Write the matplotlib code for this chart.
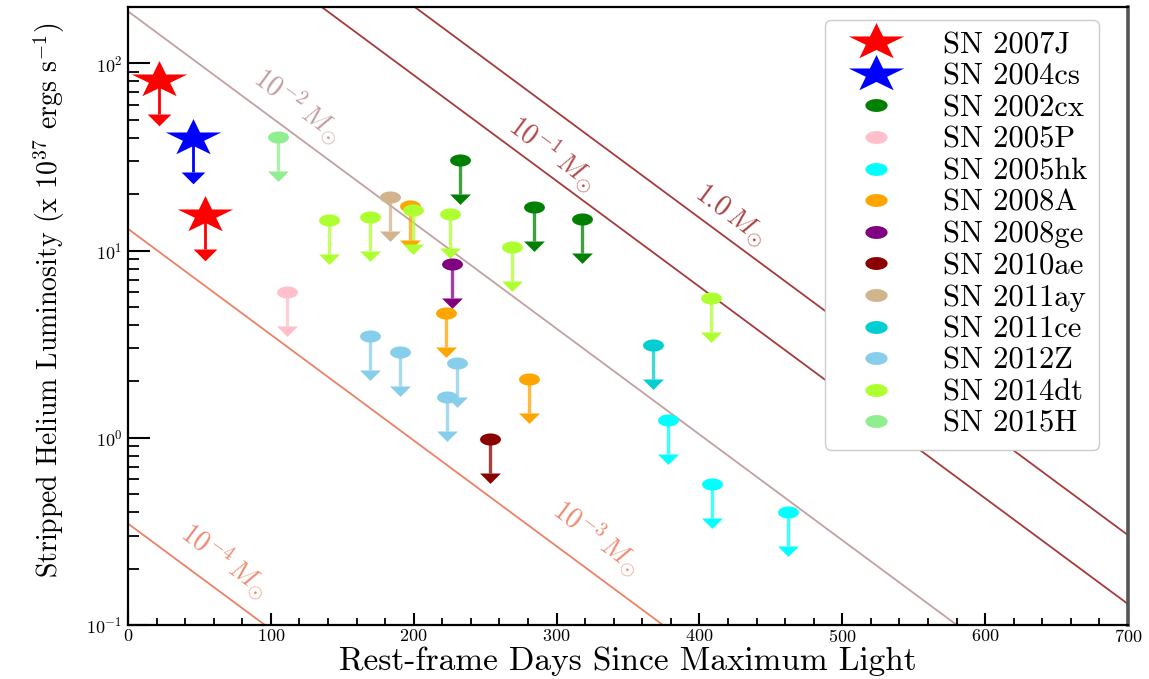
import numpy as np
import matplotlib
matplotlib.use("Agg")
import matplotlib.pyplot as plt
from matplotlib.path import Path
from matplotlib.lines import Line2D

plt.rcParams["font.family"] = "serif"
plt.rcParams["font.serif"] = ["cmr10", "DejaVu Serif"]
plt.rcParams["mathtext.fontset"] = "cm"
plt.rcParams["axes.formatter.use_mathtext"] = True
plt.rcParams["axes.unicode_minus"] = False

# ---- upper limits on stripped helium luminosity (1e37 erg/s) ----
sn_names = ["SN 2007J", "SN 2004cs", "SN 2002cx", "SN 2005P", "SN 2005hk",
            "SN 2008A", "SN 2008ge", "SN 2010ae", "SN 2011ay", "SN 2011ce",
            "SN 2012Z", "SN 2014dt", "SN 2015H"]
sn_colors = ["red", "blue", "green", "pink", "cyan", "orange", "purple",
             "darkred", "tan", "darkturquoise", "skyblue", "greenyellow",
             "lightgreen"]

days_2007J = [21.7, 54.0]
lum_2007J = [81.0, 15.5]
days_2004cs = [45.5]
lum_2004cs = [39.8]
days_2002cx = [232.4, 284.2, 317.8]
lum_2002cx = [30.4, 17.0, 14.7]
days_2005P = [111.3]
lum_2005P = [6.0]
days_2005hk = [378.0, 408.8, 462.0]
lum_2005hk = [1.24, 0.566, 0.40]
days_2008A = [197.4, 222.6, 280.7]
lum_2008A = [17.3, 4.63, 2.06]
days_2008ge = [226.8]
lum_2008ge = [8.45]
days_2010ae = [253.4]
lum_2010ae = [0.98]
days_2011ay = [183.4]
lum_2011ay = [19.3]
days_2011ce = [367.5]
lum_2011ce = [3.13]
days_2012Z = [169.4, 190.4, 230.3, 223.3]
lum_2012Z = [3.49, 2.87, 2.51, 1.65]
days_2014dt = [140.7, 169.4, 199.5, 225.4, 268.8, 408.1]
lum_2014dt = [14.5, 15.1, 16.4, 15.6, 10.4, 5.57]
days_2015H = [105.0]
lum_2015H = [40.3]

sn_days = [days_2007J, days_2004cs, days_2002cx, days_2005P, days_2005hk,
           days_2008A, days_2008ge, days_2010ae, days_2011ay, days_2011ce,
           days_2012Z, days_2014dt, days_2015H]
sn_lums = [lum_2007J, lum_2004cs, lum_2002cx, lum_2005P, lum_2005hk,
           lum_2008A, lum_2008ge, lum_2010ae, lum_2011ay, lum_2011ce,
           lum_2012Z, lum_2014dt, lum_2015H]
sn_is_star = [True, True] + [False] * 11

# ---- model tracks for a given stripped helium mass ----
track_labels = [r"$10^{-4}\,M_{\odot}$", r"$10^{-3}\,M_{\odot}$",
                r"$10^{-2}\,M_{\odot}$", r"$10^{-1}\,M_{\odot}$",
                r"$1.0\,M_{\odot}$"]
track_l0 = [0.348, 13.06, 189.7, 1167.0, 2723.0]
track_decay = 0.00565  # dex per day
track_colors = ["#EE8066", "#EE8066", "#C4A0A0", "#A63A3A", "#A63A3A"]
track_text_colors = ["#EE8A70", "#EE8A70", "#C29C9C", "#B04848", "#A84040"]
track_label_day = [67.9, 328.3, 119.0, 297.5, 421.4]
track_label_lum = [0.222, 0.295, 59.7, 33.1, 15.5]

# ---- marker shapes (wide, as drawn) ----
th = np.linspace(0, 2 * np.pi, 60)
ellipse_marker = Path(np.column_stack([np.cos(th), 0.58 * np.sin(th)]), closed=True)
star_base = Path.unit_regular_star(5, 0.381966)
star_marker = Path(star_base.vertices * np.array([1.5, 1.0]), star_base.codes)
arrow_head = Path([(-1.0, 0.0), (1.0, 0.0), (0.0, -1.0), (-1.0, 0.0)],
                  [Path.MOVETO, Path.LINETO, Path.LINETO, Path.CLOSEPOLY])

fig = plt.figure(figsize=(11.49, 6.79), dpi=100)
ax = fig.add_axes([0.1114, 0.0795, 0.8703, 0.9102])
ax.set_yscale("log")
ax.set_xlim(0, 700)
ax.set_ylim(0.1, 200)

t = np.linspace(0, 700, 400)
for l0, c in zip(track_l0, track_colors):
    ax.plot(t, l0 * 10 ** (-track_decay * t), color=c, lw=1.3, zorder=1)

# rotation of the tracks in screen space
fig.canvas.draw()
p0 = ax.transData.transform((0, track_l0[2]))
p1 = ax.transData.transform((100, track_l0[2] * 10 ** (-track_decay * 100)))
ang = np.degrees(np.arctan2(p1[1] - p0[1], p1[0] - p0[0]))
for lab, x, y, c in zip(track_labels, track_label_day, track_label_lum,
                        track_text_colors):
    ax.text(x, y, lab, rotation=ang, color=c, fontsize=20,
            ha="center", va="center", rotation_mode="anchor", zorder=2)

base_frac = 10 ** -0.18
for d, l, c, st in zip(sn_days, sn_lums, sn_colors, sn_is_star):
    d = np.asarray(d)
    l = np.asarray(l)
    ax.vlines(d, l * base_frac, l, color=c, lw=2.4 if not st else 2.0,
              alpha=0.75 if not st else 1.0, zorder=3)
    ax.plot(d, l * base_frac, ls="none", marker=arrow_head,
            ms=15 if not st else 17, color=c, mec="none", zorder=4)
    if st:
        ax.plot(d, l, ls="none", marker=star_marker, ms=40, color=c,
                mec="none", zorder=5)
    else:
        ax.plot(d, l, ls="none", marker=ellipse_marker, ms=15, color=c,
                mec="none", zorder=5)

handles = []
for name, c, st in zip(sn_names, sn_colors, sn_is_star):
    handles.append(Line2D([], [], ls="none",
                          marker=star_marker if st else ellipse_marker,
                          ms=40 if st else 16, color=c, mec="none", label=name))
leg = ax.legend(handles=handles, loc="upper center",
                bbox_to_anchor=(0.834, 0.979), borderaxespad=0.0,
                fontsize=22, frameon=True, fancybox=True, framealpha=1,
                edgecolor="#cccccc", labelspacing=0.135, handlelength=2.55,
                handletextpad=0.92, borderpad=0.38)
leg.set_zorder(10)

ax.set_xticks(np.arange(0, 701, 100))
ax.set_xticks(np.arange(0, 701, 20), minor=True)
ax.tick_params(axis="x", which="major", direction="in", length=9, width=1.5,
               labelsize=13, pad=2, top=False)
ax.tick_params(axis="x", which="minor", direction="in", length=5, width=1.3,
               top=False)
ax.tick_params(axis="y", which="major", direction="in", length=16, width=1.5,
               labelsize=13, pad=4, right=False)
ax.tick_params(axis="y", which="minor", direction="in", length=8, width=1.3,
               right=False)

for s in ["left", "bottom", "top"]:
    ax.spines[s].set_linewidth(1.6)
ax.spines["right"].set_linewidth(2.6)
ax.spines["right"].set_color("#555555")

ax.set_xlabel("Rest-frame Days Since Maximum Light", fontsize=24)
ax.xaxis.set_label_coords(0.5, -0.034)
ax.set_ylabel(r"Stripped Helium Luminosity (x $10^{37}$ ergs s$^{-1}$)",
              fontsize=20)
ax.yaxis.set_label_coords(-0.061, 0.526)

fig.savefig("out.png", dpi=100)
